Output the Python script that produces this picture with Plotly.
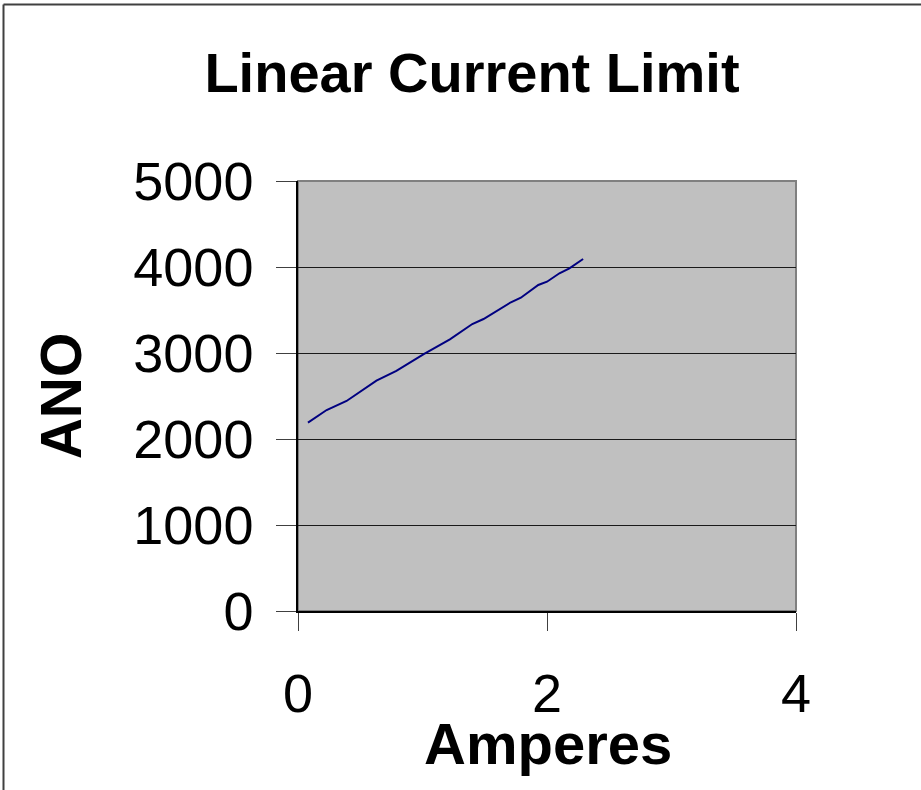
import plotly.graph_objects as go

amperes = [0.08, 0.23, 0.39, 0.63, 0.79, 1.01, 1.22, 1.40, 1.49, 1.60, 1.71, 1.79, 1.93, 2.00, 2.10, 2.18, 2.29]
ano = [2190, 2337, 2442, 2678, 2791, 2988, 3159, 3337, 3395, 3488, 3590, 3643, 3791, 3829, 3927, 3985, 4093]

title_text = "Linear Current Limit"
x_title = "Amperes"
y_title = "ANO"
x_ticks = [0, 2, 4]
y_ticks = [0, 1000, 2000, 3000, 4000, 5000]

FONT = "Arial, 'Liberation Sans', sans-serif"

fig = go.Figure()
fig.add_trace(go.Scatter(x=amperes, y=ano, mode="lines",
                         line=dict(color="#000080", width=2), showlegend=False))

W, H = 921, 790
L, R, T, B = 298, 125, 181, 179
pw, ph = W - L - R, H - T - B

def px_x(p):
    return (p - L) / pw

def px_y(p):
    return (H - B - p) / ph

fig.update_layout(
    width=W, height=H,
    margin=dict(l=L, r=R, t=T, b=B, pad=0),
    paper_bgcolor="white",
    plot_bgcolor="#C0C0C0",
    font=dict(family=FONT, color="black"),
    title=dict(text="<b>" + title_text + "</b>", font=dict(size=56, family=FONT),
               x=472 / W, xanchor="center", xref="container",
               y=1 - 72 / H, yanchor="middle", yref="container"),
    xaxis=dict(range=[0, 4], tickvals=x_ticks, ticks="outside", ticklen=18, tickwidth=1,
               tickcolor="#404040", showline=True, linecolor="black", linewidth=1.5,
               showgrid=False, zeroline=False, tickfont=dict(size=54),
               ticklabelstandoff=16),
    yaxis=dict(range=[0, 5000], tickvals=y_ticks, ticks="outside", ticklen=20, tickwidth=1,
               tickcolor="#404040", showline=True, linecolor="black", linewidth=1.5,
               showgrid=True, gridcolor="#1a1a1a", gridwidth=1, zeroline=False,
               tickfont=dict(size=54), ticklabelstandoff=12,
               title=dict(text="<b>" + y_title + "</b>", font=dict(size=57), standoff=33)),
    annotations=[
        dict(text="<b>" + x_title + "</b>", xref="paper", yref="paper",
             x=px_x(548), y=px_y(743), xanchor="center", yanchor="middle",
             showarrow=False, font=dict(size=58, family=FONT)),
    ],
    shapes=[
        dict(type="rect", xref="x domain", yref="y domain", x0=0, x1=1, y0=0, y1=1,
             line=dict(color="#808080", width=2), layer="below"),
        dict(type="line", xref="paper", yref="paper", x0=px_x(3.5), x1=px_x(3.5),
             y0=px_y(800), y1=px_y(4.5), line=dict(color="#404040", width=2)),
        dict(type="line", xref="paper", yref="paper", x0=px_x(3.5), x1=px_x(930),
             y0=px_y(4.5), y1=px_y(4.5), line=dict(color="#404040", width=2)),
    ],
)

fig.write_html("out.html", config={"displayModeBar": False},
               post_script="document.body.style.margin='0';")
